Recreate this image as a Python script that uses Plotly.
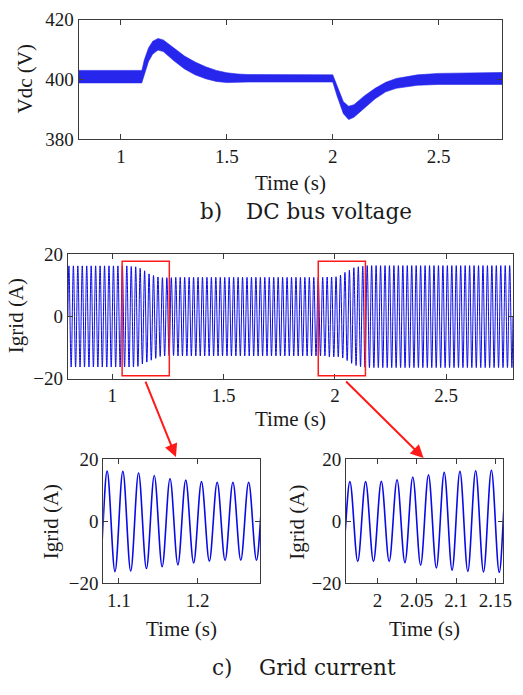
import numpy as np
import plotly.graph_objects as go

W, H = 523, 695

# ---------------- data ----------------
# DC bus voltage: ripple band (upper / lower envelope) at key times
vdc_time  = [0.80, 1.098, 1.10, 1.11, 1.13, 1.15, 1.175, 1.20, 1.25, 1.30, 1.35, 1.40, 1.45, 1.50, 1.55, 1.60,
             2.00, 2.02, 2.05, 2.075, 2.10, 2.15, 2.20, 2.25, 2.30, 2.40, 2.50, 2.80]
vdc_upper = [403.0, 403.0, 403.4, 406.5, 410.5, 412.8, 413.7, 413.2, 410.5, 407.8, 405.8, 404.2, 403.0, 402.2, 401.8, 401.6,
             401.5, 398.0, 392.5, 391.0, 391.5, 394.5, 397.0, 399.0, 400.3, 401.5, 402.0, 402.3]
vdc_lower = [398.8, 398.8, 399.0, 401.5, 406.0, 408.5, 409.8, 409.3, 406.2, 403.5, 401.5, 400.2, 399.3, 398.9, 399.0, 399.1,
             399.1, 394.5, 388.5, 386.5, 387.3, 390.5, 393.5, 395.8, 397.0, 398.0, 398.3, 398.3]

# Grid current: positive peak of every 50 Hz cycle (first peak at 0.805 s)
igrid_peaks = ([16.3] * 14
               + [16.1, 16.0, 15.5, 14.7, 13.7, 13.2, 12.7, 12.5, 12.5, 12.5]
               + [12.6] * 34
               + [12.7, 12.7, 12.8, 13.3, 14.2, 14.9, 15.7, 16.0, 16.2, 16.4]
               + [16.4] * 32)
# negative peak of every cycle (first trough at 0.815 s)
igrid_troughs = ([-16.3] * 14
                 + [-16.3, -16.1, -15.3, -14.7, -14.1, -13.5, -12.9, -12.7, -12.6, -12.6]
                 + [-12.7] * 34
                 + [-13.0, -13.0, -13.0, -13.4, -14.2, -15.1, -15.8, -16.2, -16.4, -16.5]
                 + [-16.5] * 32)
igrid_first_peak = 0.805
igrid_half_period = 0.01

main_ticks = [1, 1.5, 2, 2.5]
zoom1_ticks = [1.1, 1.2]
zoom2_ticks = [2, 2.05, 2.1, 2.15]

# ---------------- build traces ----------------
ext_vals = [0.0]
for p, q in zip(igrid_peaks, igrid_troughs):
    ext_vals += [p, q]
ext_vals.append(0.0)
n = len(igrid_peaks) * 2
ext_time = [0.80] + list(np.round(igrid_first_peak + igrid_half_period * np.arange(n), 4)) + [2.80]

BLUE = "#0a0ae6"
RED = "#ff1a1a"
FRAME = "#3a3a3a"
SERIF = "Times New Roman, Liberation Serif, Tinos, serif"

fig = go.Figure()

band_x = vdc_time + vdc_time[::-1]
band_y = vdc_upper + vdc_lower[::-1]
fig.add_trace(go.Scatter(x=band_x, y=band_y, fill="toself", fillcolor="#2626ec",
                         line=dict(color="#2626ec", width=0.6), mode="lines",
                         xaxis="x", yaxis="y", hoverinfo="skip"))

for ax, width in (("2", 1.0), ("3", 1.6), ("4", 1.6)):
    fig.add_trace(go.Scatter(x=ext_time, y=ext_vals, mode="lines",
                             line=dict(color=BLUE, width=width, shape="spline", smoothing=1),
                             xaxis="x" + ax, yaxis="y" + ax, hoverinfo="skip"))


def px_dom_x(a, b):
    return [a / W, b / W]


def px_dom_y(top, bottom):
    return [1 - bottom / H, 1 - top / H]


axis_common = dict(showline=True, linecolor=FRAME, linewidth=1, mirror="allticks",
                   ticks="inside", ticklen=5, tickcolor=FRAME, tickwidth=1,
                   showgrid=False, zeroline=False,
                   tickfont=dict(family=SERIF, size=19, color="#1a1a1a"))

fig.update_layout(
    width=W, height=H, margin=dict(l=0, r=0, t=0, b=0),
    paper_bgcolor="white", plot_bgcolor="white", showlegend=False,
    xaxis=dict(domain=px_dom_x(80, 511), range=[0.8, 2.8], tickvals=main_ticks,
               ticktext=["1", "1.5", "2", "2.5"], anchor="y", **axis_common),
    yaxis=dict(domain=px_dom_y(10, 133), range=[380, 420], tickvals=[380, 400, 420], anchor="x", **axis_common),
    xaxis2=dict(domain=px_dom_x(69, 522), range=[0.8, 2.8], tickvals=main_ticks,
                ticktext=["1", "1.5", "2", "2.5"], anchor="y2", **axis_common),
    yaxis2=dict(domain=px_dom_y(252, 380), range=[-20, 20], tickvals=[-20, 0, 20], anchor="x2", **axis_common),
    xaxis3=dict(domain=px_dom_x(105, 265), range=[1.08, 1.28], tickvals=zoom1_ticks,
                ticktext=["1.1", "1.2"], anchor="y3", **axis_common),
    yaxis3=dict(domain=px_dom_y(463, 591), range=[-20, 20], tickvals=[-20, 0, 20], anchor="x3", **axis_common),
    xaxis4=dict(domain=px_dom_x(352, 512), range=[1.96, 2.16], tickvals=zoom2_ticks,
                ticktext=["2", "2.05", "2.1", "2.15"], anchor="y4", **axis_common),
    yaxis4=dict(domain=px_dom_y(463, 591), range=[-20, 20], tickvals=[-20, 0, 20], anchor="x4", **axis_common),
)

# red zoom boxes on the grid-current panel
for x0, x1 in ((1.044, 1.256), (1.925, 2.137)):
    fig.add_shape(type="rect", xref="x2", yref="y2", x0=x0, x1=x1, y0=-19.1, y1=17.8,
                  line=dict(color=RED, width=1.5), fillcolor="rgba(0,0,0,0)")

# arrows (tail -> head, in page pixels)
for (tx, ty), (hx, hy) in (((148, 384), (179, 461)), ((352, 384), (431, 462))):
    fig.add_annotation(x=hx / W, y=1 - hy / H, ax=tx - hx, ay=ty - hy,
                       xref="paper", yref="paper", axref="pixel", ayref="pixel",
                       text="", showarrow=True, arrowhead=2, arrowsize=1.3, arrowwidth=2,
                       arrowcolor=RED)


def label(text, x, y, size=21, angle=0, family=SERIF, xanchor="center"):
    fig.add_annotation(x=x / W, y=1 - y / H, xref="paper", yref="paper", text=text,
                       showarrow=False, textangle=angle, xanchor=xanchor, yanchor="middle",
                       font=dict(family=family, size=size, color="#1a1a1a"))


label("Vdc (V)", 25, 71, angle=-90)
label("Time (s)", 296, 178)
label("Igrid (A)", 17, 315, angle=-90)
label("Time (s)", 296, 422)
label("Igrid (A)", 52, 528, angle=-90)
label("Time (s)", 185, 638)
label("Igrid (A)", 302, 528, angle=-90)
label("Time (s)", 432, 638)

CAP = "DejaVu Serif"
label("b)", 201, 208, size=21.5, family=CAP, xanchor="left")
label("DC bus voltage", 248, 208, size=21.5, family=CAP, xanchor="left")
label("c)", 214, 678, size=21.5, family=CAP, xanchor="left")
label("Grid current", 262, 678, size=21.5, family=CAP, xanchor="left")

fig.write_html("out.html")
